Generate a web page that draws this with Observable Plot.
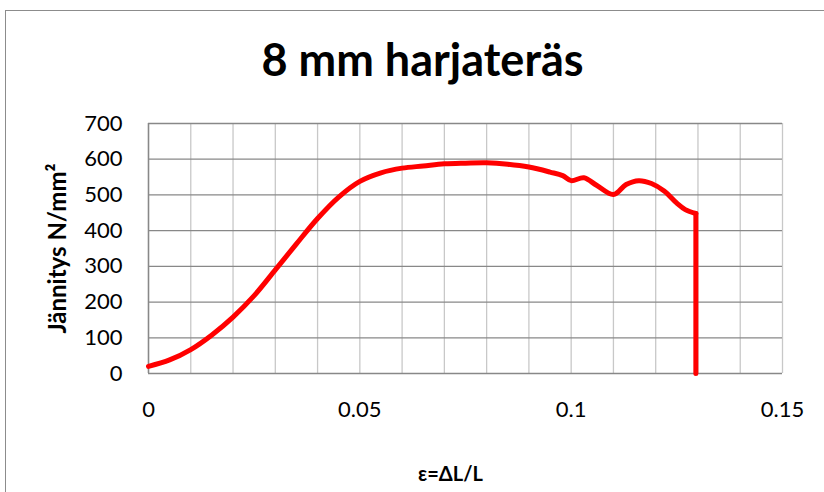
<!DOCTYPE html>
<html>
<head>
<meta charset="utf-8">
<script src="https://cdn.jsdelivr.net/npm/d3@7"></script>
<script src="https://cdn.jsdelivr.net/npm/@observablehq/plot@0.6"></script>
<style>
  html, body { margin: 0; padding: 0; background: #fff; }
  #wrap { position: relative; width: 824px; height: 492px; overflow: hidden; }
  #frame { position: absolute; left: 5px; top: 10px; width: 900px; height: 600px; border: 1px solid #8c8c8c; box-sizing: border-box; pointer-events: none; }
  svg { position: absolute; left: 0; top: 0; }
</style>
</head>
<body>
<div id="wrap"><div id="frame"></div></div>
<script>
const title = "8 mm harjateräs";
const yLabel = "Jännitys N/mm²";
const xLabel = "ε=ΔL/L";
const xTicks = [0, 0.05, 0.1, 0.15];
const yTicks = [0, 100, 200, 300, 400, 500, 600, 700];
const xGrid = d3.range(0, 16).map(i => i / 100);

const strain = [0, 0.005, 0.01, 0.015, 0.02, 0.025, 0.03, 0.035, 0.04, 0.045, 0.05, 0.055, 0.06, 0.065, 0.07, 0.075, 0.08, 0.085, 0.09, 0.095, 0.098, 0.1, 0.103, 0.106, 0.11, 0.113, 0.116, 0.119, 0.122, 0.125, 0.127, 0.1295, 0.1295];
const stress = [20, 38, 67, 108, 158, 218, 290, 363, 434, 494, 538, 562, 575, 581, 587, 589, 590, 586, 578, 564, 554, 540, 548, 527, 501, 529, 540, 532, 511, 477, 459, 448, 0];

const data = strain.map((x, i) => ({x, y: stress[i]}));
const curvePart = data.slice(0, data.length - 1);
const dropPart = data.slice(data.length - 2);
const font = "Lato, 'Open Sans', sans-serif";

const chart = Plot.plot({
  width: 824,
  height: 492,
  marginLeft: 148,
  marginRight: 42,
  marginTop: 123,
  marginBottom: 119,
  style: {fontFamily: font, background: "transparent", overflow: "visible"},
  x: {domain: [0, 0.15], axis: null},
  y: {domain: [0, 700], axis: null},
  marks: [
    Plot.ruleX(xGrid, {stroke: "#c8c8c8", strokeWidth: 1.3}),
    Plot.ruleY(yTicks, {stroke: "#888888", strokeWidth: 1.3}),
    Plot.ruleX([0], {stroke: "#888888", strokeWidth: 1.5}),
    Plot.axisX(xTicks, {tickSize: 0, tickPadding: 28, fontSize: 22, fill: "#000", label: null, tickFormat: d => String(d)}),
    Plot.axisY(yTicks, {tickSize: 0, tickPadding: 26, fontSize: 22, fill: "#000", label: null}),
    Plot.line(curvePart, {x: "x", y: "y", stroke: "#ff0000", strokeWidth: 5, curve: "catmull-rom", strokeLinejoin: "round"}),
    Plot.line(dropPart, {x: "x", y: "y", stroke: "#ff0000", strokeWidth: 5, curve: "linear", strokeLinejoin: "round"}),
    Plot.text([title], {frameAnchor: "top", dx: -43, dy: -62, fontSize: 45, fontWeight: "bold", fill: "#000", lineAnchor: "middle"}),
    Plot.text([xLabel], {frameAnchor: "bottom", dx: -15, dy: 101, fontSize: 20, fontWeight: "bold", fill: "#000", lineAnchor: "middle"}),
    Plot.text([yLabel], {frameAnchor: "left", dx: -90, rotate: -90, fontSize: 24, fontWeight: "bold", fill: "#000", lineAnchor: "middle", textAnchor: "middle"})
  ]
});
document.getElementById("wrap").appendChild(chart);
</script>
</body>
</html>
